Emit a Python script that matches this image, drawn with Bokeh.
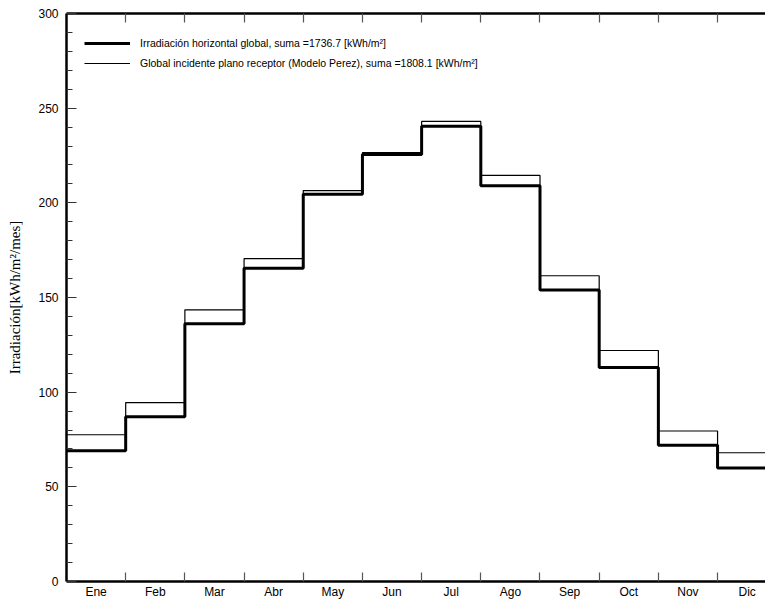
from bokeh.plotting import figure
from bokeh.models import FixedTicker, Range1d, LinearAxis, Legend, LegendItem
from bokeh.embed import file_html
from bokeh.resources import INLINE

months = ["Ene", "Feb", "Mar", "Abr", "May", "Jun", "Jul", "Ago", "Sep", "Oct", "Nov", "Dic"]
ghi = [69, 87, 136.2, 165.5, 204.5, 225.5, 240.5, 209, 154, 113, 72, 60]
poa = [77.5, 94.5, 143.5, 170.5, 206.5, 226.5, 243, 214.5, 161.5, 122, 79.5, 68]
label_ghi = "Irradiación horizontal global, suma =1736.7 [kWh/m²]"
label_poa = "Global incidente plano receptor (Modelo Perez), suma =1808.1 [kWh/m²]"
y_ticks = [0, 50, 100, 150, 200, 250, 300]
y_minor = [v for v in range(0, 301, 10) if v % 50 != 0]

edges = list(range(len(months) + 1))
centers = [i + 0.5 for i in range(len(months))]

W, H = 765, 601
ML, MT, MB = 66, 13, 18
FH = H - MT - MB

p = figure(width=W, height=H, output_backend="svg", toolbar_location=None,
           x_range=Range1d(0, 11.81), y_range=Range1d(0, 300),
           min_border_left=ML, min_border_right=0, min_border_top=MT, min_border_bottom=MB,
           x_axis_location=None, y_axis_location=None)
p.outline_line_color = None
p.xgrid.visible = False
p.ygrid.visible = False
p.background_fill_color = "white"

r_poa = p.step(x=edges, y=poa + [poa[-1]], mode="after", line_color="black", line_width=1.2)
r_ghi = p.step(x=edges, y=ghi + [ghi[-1]], mode="after", line_color="black", line_width=3)

xt = FixedTicker(ticks=centers, minor_ticks=edges[1:-1])
for loc in ("below", "above"):
    ax = LinearAxis(ticker=xt)
    ax.major_label_overrides = {c: m for c, m in zip(centers, months)}
    ax.major_tick_in = 0
    ax.major_tick_out = 0
    ax.minor_tick_in = 9
    ax.minor_tick_out = 0
    ax.minor_tick_line_color = "#555555"
    ax.minor_tick_line_width = 1.2
    ax.axis_line_width = 2.5
    ax.axis_line_color = "black"
    ax.major_label_text_font = "Liberation Sans"
    ax.major_label_text_font_size = "12px"
    ax.major_label_text_color = "black"
    ax.major_label_standoff = 3
    if loc == "above":
        ax.major_label_text_font_size = "0px"
        ax.major_label_standoff = 0
    p.add_layout(ax, loc)

ay = LinearAxis(ticker=FixedTicker(ticks=y_ticks, minor_ticks=y_minor))
ay.major_tick_in = 10
ay.major_tick_out = 0
ay.minor_tick_in = 6
ay.minor_tick_out = 0
ay.major_tick_line_color = "#333333"
ay.minor_tick_line_color = "#333333"
ay.axis_line_width = 2.5
ay.axis_line_color = "black"
ay.major_label_text_font = "Liberation Sans"
ay.major_label_text_font_size = "12px"
ay.major_label_text_color = "black"
ay.major_label_standoff = 8
ay.axis_label = "Irradiación[kWh/m²/mes]"
ay.axis_label_text_font = "Liberation Serif"
ay.axis_label_text_font_style = "normal"
ay.axis_label_text_font_size = "15px"
ay.axis_label_text_color = "black"
ay.axis_label_standoff = 12
p.add_layout(ay, "left")

legend = Legend(items=[LegendItem(label=label_ghi, renderers=[r_ghi]),
                       LegendItem(label=label_poa, renderers=[r_poa])],
                location=(18, FH - 23 - 38))
legend.border_line_color = None
legend.background_fill_alpha = 0
legend.margin = 0
legend.padding = 0
legend.glyph_height = 18
legend.label_height = 18
legend.glyph_width = 46
legend.spacing = 2
legend.label_standoff = 10
legend.label_text_font = "Liberation Sans"
legend.label_text_font_size = "10.5px"
legend.label_text_color = "black"
p.add_layout(legend, "center")

open("out.html", "w").write(file_html(p, INLINE))
